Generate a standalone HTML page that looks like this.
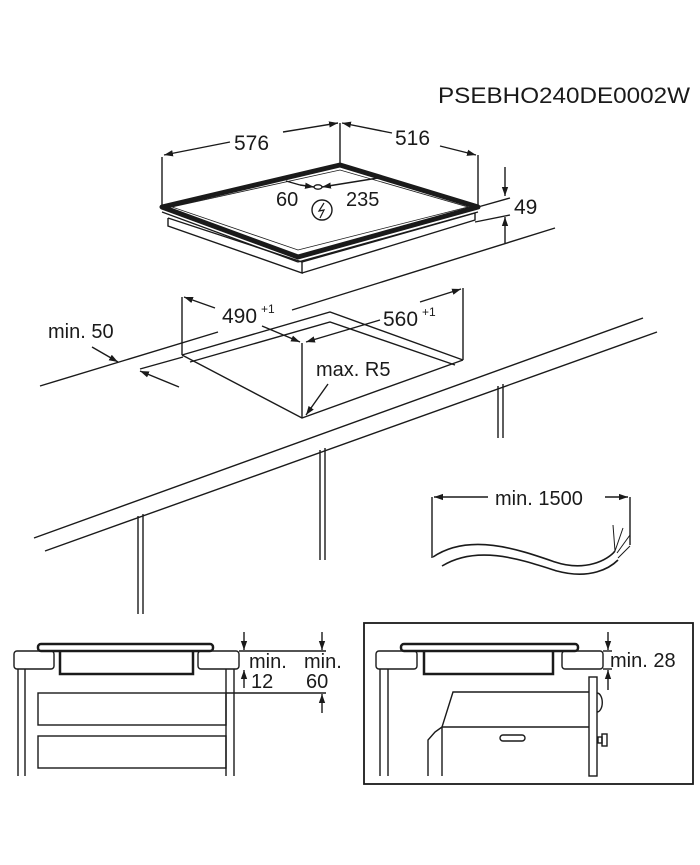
<!DOCTYPE html>
<html><head><meta charset="utf-8"><style>
html,body{margin:0;padding:0;background:#fff;}
svg{display:block}
text{font-family:"Liberation Sans",Arial,sans-serif;fill:#1a1a1a;}
</style></head><body>
<svg width="700" height="865" viewBox="0 0 700 865" xmlns="http://www.w3.org/2000/svg">
<defs>
<marker id="a" viewBox="0 0 10 10" refX="10" refY="5" markerWidth="9" markerHeight="9" orient="auto-start-reverse" markerUnits="userSpaceOnUse"><path d="M0,1.5 L10,5 L0,8.5 z" fill="#1a1a1a"/></marker>
</defs>
<g stroke="#1a1a1a" stroke-width="1.4" fill="none">

<text x="438" y="103" font-size="22" textLength="252" lengthAdjust="spacingAndGlyphs" stroke="none">PSEBHO240DE0002W</text>

<!-- hob top view -->
<line x1="162" y1="157" x2="162" y2="205"/>
<line x1="340" y1="123" x2="340" y2="165"/>
<line x1="478" y1="155" x2="478" y2="207"/>
<line x1="230" y1="142" x2="164" y2="155" marker-end="url(#a)"/>
<line x1="283" y1="132" x2="338" y2="123" marker-end="url(#a)"/>
<text x="234" y="150" font-size="21" stroke="none">576</text>
<line x1="392" y1="133" x2="342" y2="123" marker-end="url(#a)"/>
<line x1="440" y1="146" x2="476" y2="155" marker-end="url(#a)"/>
<text x="395" y="145" font-size="21" stroke="none">516</text>

<!-- lower body -->
<polyline points="168,218 302,262 302,273 168,226 168,218"/>
<polyline points="302,262 475,213 475,220 302,273"/>
<!-- top plate -->
<polygon points="162,207 340,165 478,207 298,257" stroke-width="5" stroke-linejoin="round"/>
<polygon points="172,207 340,170 468,207 298,250" stroke-width="0.8"/>
<line x1="162" y1="212" x2="298" y2="262" stroke-width="1.2"/>
<line x1="298" y1="262" x2="478" y2="212" stroke-width="1.2"/>

<!-- 60 / 235 -->
<line x1="300" y1="185" x2="286" y2="181"/>
<line x1="300" y1="185" x2="314" y2="187" marker-end="url(#a)"/>
<line x1="378" y1="178" x2="322" y2="187" marker-end="url(#a)"/>
<ellipse cx="318" cy="187" rx="4" ry="2.2"/>
<text x="276" y="206" font-size="20" stroke="none">60</text>
<text x="346" y="206" font-size="20" stroke="none">235</text>
<circle cx="322" cy="210" r="10"/>
<path d="M324,203 L319,211 L324,210 L320,218" stroke-width="1.2"/>

<!-- 49 -->
<line x1="478" y1="207" x2="510" y2="198"/>
<line x1="475" y1="222" x2="510" y2="215"/>
<line x1="505" y1="167" x2="505" y2="196" marker-end="url(#a)"/>
<line x1="505" y1="243" x2="505" y2="217" marker-end="url(#a)"/>
<text x="514" y="214" font-size="21" stroke="none">49</text>

<!-- countertop -->
<line x1="40" y1="386" x2="218" y2="332"/>
<line x1="292" y1="310" x2="555" y2="228"/>
<line x1="34" y1="538" x2="643" y2="318"/>
<line x1="45" y1="551" x2="657" y2="332"/>

<!-- cutout -->
<polyline points="182,355 330,312 463,360"/>
<polyline points="190,362 330,322 455,365"/>
<polyline points="182,355 302,418 463,360"/>
<line x1="182" y1="297" x2="182" y2="355"/>
<line x1="463" y1="288" x2="463" y2="360"/>
<line x1="302" y1="343" x2="302" y2="418"/>
<line x1="215" y1="308" x2="184" y2="297" marker-end="url(#a)"/>
<line x1="262" y1="326" x2="300" y2="342" marker-end="url(#a)"/>
<text x="222" y="323" font-size="21" stroke="none">490</text>
<text x="261" y="313" font-size="12" stroke="none">+1</text>
<line x1="380" y1="320" x2="306" y2="342" marker-end="url(#a)"/>
<line x1="420" y1="302" x2="461" y2="289" marker-end="url(#a)"/>
<text x="383" y="326" font-size="21" stroke="none">560</text>
<text x="422" y="316" font-size="12" stroke="none">+1</text>
<text x="316" y="376" font-size="20" stroke="none">max. R5</text>
<line x1="328" y1="384" x2="306" y2="415" marker-end="url(#a)"/>

<!-- min 50 -->
<text x="48" y="338" font-size="20" stroke="none">min. 50</text>
<line x1="92" y1="347" x2="118" y2="362" marker-end="url(#a)"/>
<line x1="140" y1="369" x2="183" y2="357"/>
<line x1="179" y1="387" x2="140" y2="371" marker-end="url(#a)"/>

<!-- legs -->
<line x1="138" y1="516" x2="138" y2="614"/><line x1="143" y1="514" x2="143" y2="614"/>
<line x1="320" y1="450" x2="320" y2="560"/><line x1="325" y1="448" x2="325" y2="560"/>
<line x1="498" y1="386" x2="498" y2="438"/><line x1="503" y1="384" x2="503" y2="438"/>

<!-- cable -->
<line x1="432" y1="497" x2="432" y2="558"/>
<line x1="630" y1="497" x2="630" y2="545"/>
<line x1="488" y1="497" x2="434" y2="497" marker-end="url(#a)"/>
<line x1="605" y1="497" x2="628" y2="497" marker-end="url(#a)"/>
<text x="495" y="505" font-size="20" stroke="none">min. 1500</text>
<path d="M433,557 C470,532 520,550 555,562 C585,572 608,560 615,551" stroke-width="1.6"/>
<path d="M442,566 C478,544 522,560 557,571 C590,580 610,568 618,560" stroke-width="1.6"/>
<path d="M615,551 L613,525 M615,551 L623,528 M617,553 L630,535 M618,558 L630,546" stroke-width="1"/>

<!-- left section -->
<rect x="38" y="644" width="175" height="7" rx="3" stroke-width="2.5"/>
<rect x="14" y="651" width="40" height="18" rx="3"/>
<rect x="198" y="651" width="41" height="18" rx="3"/>
<polyline points="60,651 60,674 193,674 193,651" stroke-width="2.5"/>
<line x1="18" y1="669" x2="18" y2="776"/><line x1="25" y1="669" x2="25" y2="776"/>
<line x1="226" y1="669" x2="226" y2="776"/><line x1="234" y1="669" x2="234" y2="776"/>
<rect x="38" y="693" width="188" height="32"/>
<rect x="38" y="736" width="188" height="32"/>
<line x1="239" y1="651" x2="326" y2="651"/>
<line x1="226" y1="693" x2="326" y2="693"/>
<line x1="244" y1="632" x2="244" y2="650" marker-end="url(#a)"/>
<line x1="244" y1="688" x2="244" y2="670" marker-end="url(#a)"/>
<line x1="322" y1="632" x2="322" y2="650" marker-end="url(#a)"/>
<line x1="322" y1="713" x2="322" y2="694" marker-end="url(#a)"/>
<text x="249" y="668" font-size="20" stroke="none">min.</text>
<text x="251" y="688" font-size="20" stroke="none">12</text>
<text x="304" y="668" font-size="20" stroke="none">min.</text>
<text x="306" y="688" font-size="20" stroke="none">60</text>

<!-- right section -->
<rect x="364" y="623" width="329" height="161" stroke-width="1.8"/>
<rect x="401" y="644" width="177" height="7" rx="3" stroke-width="2.5"/>
<rect x="376" y="651" width="41" height="18" rx="3"/>
<rect x="562" y="651" width="41" height="18" rx="3"/>
<polyline points="424,651 424,674 553,674 553,651" stroke-width="2.5"/>
<line x1="380" y1="669" x2="380" y2="776"/><line x1="388" y1="669" x2="388" y2="776"/>
<polyline points="589,692 453,692 442,727 589,727"/>
<polyline points="442,727 435,732 428,740 428,776"/>
<line x1="442" y1="727" x2="442" y2="776"/>
<rect x="500" y="735" width="25" height="6" rx="3"/>
<rect x="589" y="677" width="8" height="99"/>
<path d="M597,693 A5,9 0 0 1 597,712"/>
<rect x="598" y="737" width="4" height="6"/>
<rect x="602" y="734" width="5" height="12"/>
<line x1="603" y1="651" x2="612" y2="651"/>
<line x1="603" y1="669" x2="612" y2="669"/>
<line x1="608" y1="632" x2="608" y2="650" marker-end="url(#a)"/>
<line x1="608" y1="690" x2="608" y2="670" marker-end="url(#a)"/>
<text x="610" y="667" font-size="20" stroke="none">min. 28</text>
</g>
</svg>
</body></html>
